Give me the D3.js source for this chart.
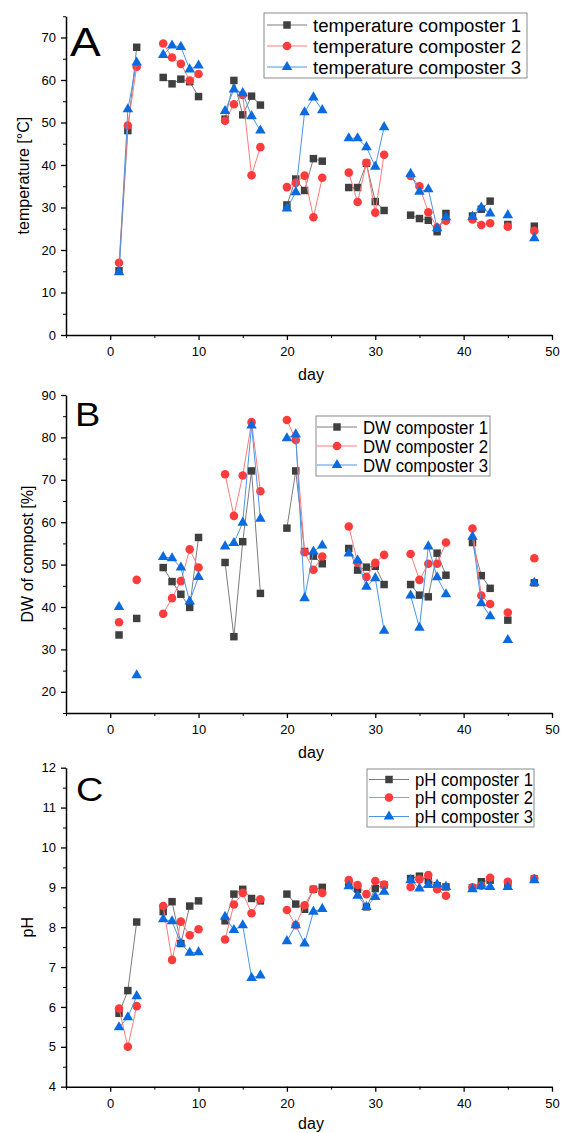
<!DOCTYPE html>
<html>
<head>
<meta charset="utf-8">
<script src="https://cdn.jsdelivr.net/npm/d3@7"></script>
<style>
  body { margin: 0; background: #fff; }
  svg { font-family: "Liberation Sans", Arial, sans-serif; }
</style>
</head>
<body>
<div id="container"></div>
<script>
const days = [1,2,3,6,7,8,9,10,13,14,15,16,17,20,21,22,23,24,27,28,29,30,31,34,35,36,37,38,41,42,43,45,48];
const dwDays = [1,3,6,7,8,9,10,13,14,15,16,17,20,21,22,23,24,27,28,29,30,31,34,35,36,37,38,41,42,43,45,48];

const temp1 = [15.1,48.1,67.7,60.6,59.1,60.2,59.6,56.1,50.8,59.9,51.8,56.2,54.1,30.6,36.7,34.0,41.5,40.9,34.7,34.7,40.4,31.4,29.3,28.2,27.4,27.0,24.3,28.6,28.0,29.6,31.5,26.0,25.6];
const temp2 = [17.0,49.3,63.1,68.6,65.3,63.8,59.9,61.4,50.4,54.3,56.5,37.6,44.2,34.8,35.8,37.5,27.7,37.0,38.2,31.3,40.5,28.8,42.4,37.4,35.0,28.9,25.3,26.9,27.2,25.9,26.3,25.5,24.5];
const temp3 = [14.8,53.1,64.1,65.9,68.1,67.8,62.5,63.4,52.7,57.8,56.9,51.5,48.1,29.8,33.6,52.4,55.9,52.9,46.3,46.3,44.2,39.6,48.9,37.9,33.7,34.3,25.1,27.7,27.8,30.0,28.6,28.2,22.8];

const dw1 = [33.4,37.3,49.3,46.0,43.0,39.9,56.4,50.5,33.0,55.4,72.1,43.2,58.6,72.1,53.1,52.0,50.2,53.8,48.7,49.4,49.6,45.3,45.3,42.8,42.4,52.7,47.5,55.2,47.4,44.4,36.9,45.7];
const dw2 = [36.4,46.4,38.4,42.1,46.1,53.6,49.3,71.3,61.5,71.0,83.6,67.3,84.1,79.4,52.9,48.8,51.9,59.0,50.5,47.1,50.4,52.3,52.5,46.4,50.2,50.2,55.2,58.5,42.7,40.7,38.7,51.5];
const dw3 = [40.0,23.9,51.8,51.5,49.3,41.3,47.1,54.3,55.1,59.9,82.8,60.8,79.8,80.7,42.1,53.1,54.5,52.6,51.0,44.8,46.8,34.4,42.7,35.1,54.3,47.0,43.0,56.6,40.9,37.8,32.2,45.7];

const ph1 = [5.84,6.41,8.13,8.39,8.64,7.59,8.53,8.66,8.16,8.83,8.95,8.72,8.66,8.83,8.58,8.45,8.95,9.0,9.06,8.95,8.51,8.97,9.06,9.22,9.28,9.17,9.04,9.01,8.99,9.14,9.18,9.1,9.21];
const ph2 = [5.96,5.0,6.02,8.53,7.18,8.14,7.80,7.95,7.69,8.57,8.86,8.35,8.70,8.43,8.05,8.55,8.95,8.86,9.18,9.06,8.83,9.16,9.07,9.01,9.2,9.31,8.95,8.79,9.0,9.04,9.24,9.14,9.22];
const ph3 = [5.49,5.74,6.27,8.2,8.15,7.59,7.36,7.37,8.26,7.93,8.05,6.73,6.79,7.65,8.05,7.59,8.39,8.46,9.03,8.79,8.51,8.76,8.89,9.18,8.97,9.06,9.07,9.01,8.95,9.03,9.01,9.01,9.18];

const xTicks = [0,10,20,30,40,50];
const xMinor = [-5,5,15,25,35,45];

const styles = [
  {fill: '#3f3f3f', line: '#7d7d7d', symbol: d3.symbolSquare, size: 56},
  {fill: '#ff3b3b', line: '#ff7a7a', symbol: d3.symbolCircle, size: 58},
  {fill: '#0a6be0', line: '#4a94ea', symbol: d3.symbolTriangle, size: 48}
];

const W = 561, H = 1133;
const svg = d3.select('#container').append('svg')
  .attr('width', W).attr('height', H);

const x = d3.scaleLinear().domain([-5, 50]).range([66, 552]);

// split into runs of consecutive days, lines break over gaps
function runs(pts) {
  const out = [];
  let cur = [];
  pts.forEach((p, i) => {
    if (i > 0 && p.day - pts[i-1].day > 1) { out.push(cur); cur = []; }
    cur.push(p);
  });
  out.push(cur);
  return out;
}

function drawPanel(cfg) {
  const y = d3.scaleLinear().domain(cfg.yDomain).range(cfg.yRange);
  const g = svg.append('g');
  const y0 = cfg.yRange[0];

  // x axis
  g.append('g')
    .attr('transform', `translate(0,${y0})`)
    .call(d3.axisBottom(x).tickValues(xMinor).tickSize(3).tickFormat(''))
    .call(a => a.select('.domain').remove());
  g.append('g')
    .attr('transform', `translate(0,${y0})`)
    .call(d3.axisBottom(x).tickValues(xTicks).tickSize(5).tickSizeOuter(0).tickPadding(7))
    .call(a => a.select('.domain').attr('stroke-width', 1.5))
    .call(a => a.selectAll('line').attr('stroke-width', 1.3))
    .call(a => a.selectAll('text').attr('font-size', 13).attr('fill', '#000'));

  // y axis
  g.append('g')
    .attr('transform', `translate(${x(-5)},0)`)
    .call(d3.axisLeft(y).tickValues(cfg.yMinor).tickSize(3).tickFormat(''))
    .call(a => a.select('.domain').remove());
  g.append('g')
    .attr('transform', `translate(${x(-5)},0)`)
    .call(d3.axisLeft(y).tickValues(cfg.yTicks).tickSize(5).tickSizeOuter(0).tickPadding(5))
    .call(a => a.select('.domain').attr('stroke-width', 1.5))
    .call(a => a.selectAll('line').attr('stroke-width', 1.3))
    .call(a => a.selectAll('text').attr('font-size', 13).attr('fill', '#000'));

  g.selectAll('.tick line').attr('stroke', '#000');

  // titles
  g.append('text')
    .attr('x', 311).attr('y', Math.min(y0 + 45, H - 4))
    .attr('text-anchor', 'middle').attr('font-size', 16)
    .text('day');
  g.append('text')
    .attr('transform', `translate(${cfg.yTitleX},${(cfg.yRange[0] + cfg.yRange[1]) / 2}) rotate(-90)`)
    .attr('text-anchor', 'middle').attr('font-size', 16)
    .text(cfg.yTitle);
  g.append('text')
    .attr('x', cfg.letterX).attr('y', cfg.letterY)
    .attr('font-size', cfg.letterSize)
    .attr('transform', `translate(${cfg.letterX},0) scale(1.15,1) translate(${-cfg.letterX},0)`)
    .text(cfg.letter);

  // series
  cfg.series.forEach((vals, k) => {
    const st = styles[k];
    const pts = cfg.days.map((d, i) => ({day: d, v: vals[i]}));
    const line = d3.line().x(p => x(p.day)).y(p => y(p.v));
    g.selectAll(null).data(runs(pts).filter(r => r.length > 1)).enter()
      .append('path')
      .attr('d', line)
      .attr('fill', 'none')
      .attr('stroke', st.line)
      .attr('stroke-width', 1);
    g.selectAll(null).data(pts).enter()
      .append('path')
      .attr('d', d3.symbol().type(st.symbol).size(st.size))
      .attr('transform', p => `translate(${x(p.day)},${y(p.v)})`)
      .attr('fill', st.fill);
  });

  // legend
  const L = cfg.legend;
  g.append('rect')
    .attr('x', L.x).attr('y', L.y).attr('width', L.w).attr('height', L.h)
    .attr('fill', '#fff').attr('stroke', '#8a8a8a').attr('stroke-width', 1);
  cfg.names.forEach((name, k) => {
    const st = styles[k];
    const ry = L.rows[k];
    g.append('line')
      .attr('x1', L.lx).attr('x2', L.lx + 40)
      .attr('y1', ry).attr('y2', ry)
      .attr('stroke', st.line).attr('stroke-width', 1);
    g.append('path')
      .attr('d', d3.symbol().type(st.symbol).size(st.size))
      .attr('transform', `translate(${L.lx + 20},${ry})`)
      .attr('fill', st.fill);
    g.append('text')
      .attr('x', L.lx + 46).attr('y', ry + 6.5)
      .attr('font-size', 18)
      .attr('textLength', L.tw).attr('lengthAdjust', 'spacingAndGlyphs')
      .text(name);
  });
}

drawPanel({
  yDomain: [0, 75], yRange: [335, 16.25],
  yTicks: [0,10,20,30,40,50,60,70], yMinor: [5,15,25,35,45,55,65,75],
  yTitle: 'temperature [°C]', yTitleX: 29,
  letter: 'A', letterX: 70, letterY: 56.5, letterSize: 40,
  days: days, series: [temp1, temp2, temp3],
  names: ['temperature composter 1', 'temperature composter 2', 'temperature composter 3'],
  legend: {x: 264, y: 13, w: 263, h: 65, lx: 267, rows: [25, 46, 67], tw: 208}
});

drawPanel({
  yDomain: [15, 90], yRange: [713, 395],
  yTicks: [20,30,40,50,60,70,80,90], yMinor: [15,25,35,45,55,65,75,85],
  yTitle: 'DW of compost [%]', yTitleX: 33,
  letter: 'B', letterX: 75, letterY: 426, letterSize: 33,
  days: dwDays, series: [dw1, dw2, dw3],
  names: ['DW composter 1', 'DW composter 2', 'DW composter 3'],
  legend: {x: 316, y: 416, w: 174, h: 60, lx: 317, rows: [427, 446, 465], tw: 125}
});

drawPanel({
  yDomain: [4, 12], yRange: [1086.7, 767.7],
  yTicks: [4,5,6,7,8,9,10,11,12], yMinor: [4.5,5.5,6.5,7.5,8.5,9.5,10.5,11.5],
  yTitle: 'pH', yTitleX: 33,
  letter: 'C', letterX: 76, letterY: 801.5, letterSize: 33,
  days: days, series: [ph1, ph2, ph3],
  names: ['pH composter 1', 'pH composter 2', 'pH composter 3'],
  legend: {x: 367, y: 769, w: 167, h: 58, lx: 369, rows: [779.5, 797.5, 816.5], tw: 118}
});
</script>
</body>
</html>
